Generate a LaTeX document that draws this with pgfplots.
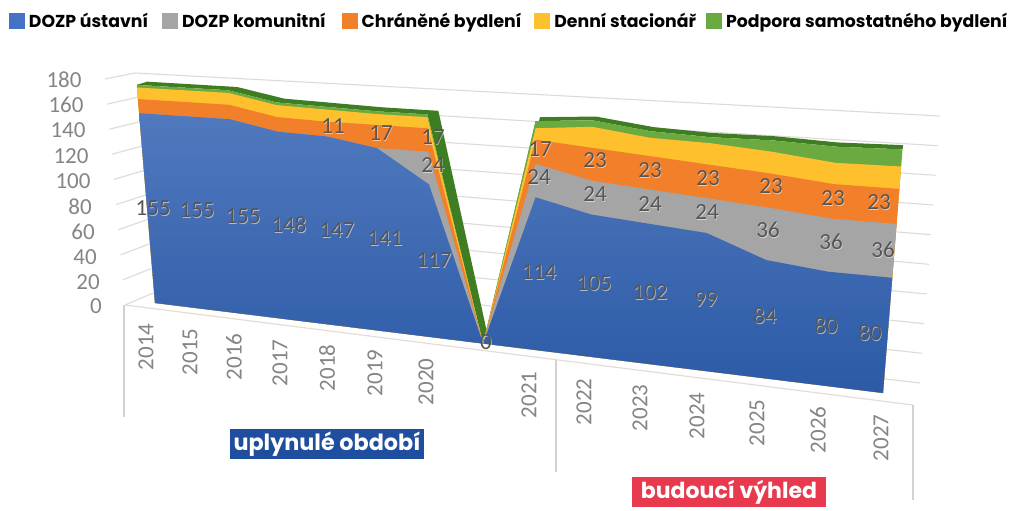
\documentclass[border=0pt]{standalone}
\usepackage{fontspec}
\usepackage{pgfplots}
\usepackage{pgfplotstable}
\pgfplotsset{compat=1.18}
\setmainfont{Carlito}
\newfontfamily\legfont{Poppins}
\definecolor{cblue}{HTML}{4472C4}
\definecolor{cbluet}{HTML}{5079BE}
\definecolor{cblueb}{HTML}{2C5AA6}
\definecolor{cgray}{HTML}{A5A5A5}
\definecolor{corange}{HTML}{F27F2A}
\definecolor{cyellow}{HTML}{FFC02D}
\definecolor{cgreen}{HTML}{6BAA40}
\definecolor{cdark}{HTML}{3F7D22}
\definecolor{cgrid}{HTML}{DEDAD7}
\definecolor{cfloor}{HTML}{E6DCD4}
\definecolor{cvert}{HTML}{D2D2D2}
\definecolor{clab}{HTML}{858585}
\definecolor{cdat}{HTML}{555555}
% projection of (category index, stacked value) onto the picture: front plane
\newcommand\FD[2]{(1-0.17939*(#1)/14-0.04719*(#2)/180)}
\newcommand\FX[2]{((569.6*(#1)/14-25.04*(#2)/180+155)/\FD{#1}{#2})}
\newcommand\FY[2]{((19.5*(#1)/14-225.82*(#2)/180+303)/\FD{#1}{#2})}
% back plane
\newcommand\BD[2]{(1-0.1844*(#1)/14-0.03579*(#2)/180)}
\newcommand\BX[2]{((564*(#1)/14-15.26*(#2)/180+157)/\BD{#1}{#2})}
\newcommand\BY[2]{((19.93*(#1)/14-214.79*(#2)/180+290)/\BD{#1}{#2})}
\pgfplotstableread{
i a b c d e
0 155 0 11 9 2
1 155 0 11 9 2
2 155 0 11 9 2
3 148 0 11 9 2
4 147 0 11 9 2
5 141 0 17 8 2
6 117 24 17 8 2
7 0 0 0 0 0
8 114 24 17 8 5
9 105 24 23 14.5 4.5
10 102 24 23 12.5 4.5
11 99 24 23 14.5 4
12 84 36 23 14.5 7.5
13 80 36 23 14 10.5
14 80 36 23 14.5 11
14 0 0 0 0 0
0 0 0 0 0 0
}\front
\pgfplotstableread{
i s p
0 177 0
1 177 0
2 177 0
3 170 0
4 169 0
5 168 0
6 168 0
7 0 0
8 168 0
9 171 0
10 166 0
11 164.5 0
12 165 0
13 163.5 0
14 164.5 0
14 164.5 1
13 163.5 1
12 165 1
11 164.5 1
10 166 1
9 171 1
8 168 1
7.06 0 1
6.1 168 1
5 168 1
4 169 1
3 170 1
2 177 1
1 177 1
0 177 1
}\topface
\pgfplotstableread{
px py lab
153 208 155
197 210 155
243 216 155
289 225 148
337 230 147
385 238 141
434 260 117
486 342 0
539 272 114
594 283 105
650 292 102
706 299 99
765 316 84
826 326 80
870 333 80
333 126 11
381 133 17
433 137 17
433 165 24
539 177 24
540 149 17
595 194 24
595 160 23
650 204 24
650 170 23
707 212 24
708 178 23
768 230 36
771 186 23
831 242 36
833 198 23
883 250 36
879 202 23
}\datalabels
\pgfplotstableread{
px py lab
146 347 2014
190 352 2015
234 357 2016
280 363 2017
327 368 2018
375 373 2019
426 382 2020
529 395 2021
584 402 2022
640 408 2023
697 416 2024
757 423 2025
818 430 2026
881 438 2027
}\xlabels
\pgfplotstableread{
px py lab
64 80 180
66 105 160
68 130 140
71 156 120
73 181 100
80 207 80
83 232 60
85 257 40
88 282 20
96 306 0
}\ylabels
\begin{document}
\begin{tikzpicture}
\begin{axis}[
  width=1009pt,height=511pt,scale only axis,
  xmin=0,xmax=1009,ymin=0,ymax=511,y dir=reverse,
  hide axis,clip=false,
  legend columns=5,
  legend entries={DOZP ústavní,DOZP komunitní,Chráněné bydlení,Denní stacionář,Podpora samostatného bydlení},
  legend image code/.code={\fill[#1,draw=none] (0pt,-8pt) rectangle (16pt,8pt);},
  legend style={at={(axis cs:9,21)},anchor=west,draw=none,fill=none,inner sep=0pt,outer sep=0pt,
    font=\legfont\bfseries\fontsize{17.3}{20}\selectfont,
    nodes={inner sep=0pt},
    /tikz/column 1/.style={column sep=4pt},
    /tikz/column 2/.style={column sep=14pt},
    /tikz/column 3/.style={column sep=4pt},
    /tikz/column 4/.style={column sep=16pt},
    /tikz/column 5/.style={column sep=4pt},
    /tikz/column 6/.style={column sep=13pt},
    /tikz/column 7/.style={column sep=4pt},
    /tikz/column 8/.style={column sep=10pt},
    /tikz/column 9/.style={column sep=4pt}},
  gridl/.style={draw=cgrid,line width=1.1pt,no marks,forget plot},
  every node near coord/.append style={anchor=center,inner sep=0pt,font=\fontsize{23}{23}\selectfont},
]
\addlegendimage{fill=cblue}
\addlegendimage{fill=cgray}
\addlegendimage{fill=corange}
\addlegendimage{fill=cyellow}
\addlegendimage{fill=cgreen}
\path (axis cs:0,0) rectangle (axis cs:1009,511);
% walls
\addplot[gridl] coordinates {(125,305) (153,293) (920,383)};
\addplot[gridl] coordinates {(122.8,279.9) (151,268.6) (922.2,353.3)};
\addplot[gridl] coordinates {(120.6,254.8) (149,244.1) (924.4,323.7)};
\addplot[gridl] coordinates {(118.3,229.7) (147,219.7) (926.7,294)};
\addplot[gridl] coordinates {(116.1,204.6) (145,195.2) (928.9,264.3)};
\addplot[gridl] coordinates {(113.9,179.4) (143,170.8) (931.1,234.7)};
\addplot[gridl] coordinates {(111.7,154.3) (141,146.3) (933.3,205)};
\addplot[gridl] coordinates {(109.4,129.2) (139,121.9) (935.6,175.3)};
\addplot[gridl] coordinates {(107.2,104.1) (137,97.4) (937.8,145.7)};
\addplot[gridl] coordinates {(105,79) (135,73) (940,116)};
% floor and category separators
\addplot[draw=cfloor,line width=1.2pt,no marks,forget plot] coordinates {(125,305) (913,405)};
\addplot[draw=cvert,line width=1.8pt,no marks,forget plot] coordinates {(124,305) (124,417)};
\addplot[draw=cvert,line width=1.8pt,no marks,forget plot] coordinates {(556,360) (556,472)};
\addplot[draw=cvert,line width=1.8pt,no marks,forget plot] coordinates {(913,405) (913,500)};
% depth of the stack
\addplot[fill=cdark,draw=none,no marks,forget plot] table[
  x expr={(1-\thisrow{p})*\FX{\thisrow{i}}{\thisrow{s}}+\thisrow{p}*\BX{\thisrow{i}}{\thisrow{s}}},
  y expr={(1-\thisrow{p})*\FY{\thisrow{i}}{\thisrow{s}}+\thisrow{p}*\BY{\thisrow{i}}{\thisrow{s}}}]{\topface};
% front faces, painted from the top of the stack down
\addplot[fill=cgreen,draw=none,no marks,forget plot] table[
  x expr={\FX{\thisrow{i}}{\thisrow{a}+\thisrow{b}+\thisrow{c}+\thisrow{d}+\thisrow{e}}},
  y expr={\FY{\thisrow{i}}{\thisrow{a}+\thisrow{b}+\thisrow{c}+\thisrow{d}+\thisrow{e}}}]{\front};
\addplot[fill=cyellow,draw=none,no marks,forget plot] table[
  x expr={\FX{\thisrow{i}}{\thisrow{a}+\thisrow{b}+\thisrow{c}+\thisrow{d}}},
  y expr={\FY{\thisrow{i}}{\thisrow{a}+\thisrow{b}+\thisrow{c}+\thisrow{d}}}]{\front};
\addplot[fill=corange,draw=none,no marks,forget plot] table[
  x expr={\FX{\thisrow{i}}{\thisrow{a}+\thisrow{b}+\thisrow{c}}},
  y expr={\FY{\thisrow{i}}{\thisrow{a}+\thisrow{b}+\thisrow{c}}}]{\front};
\addplot[fill=cgray,draw=none,no marks,forget plot] table[
  x expr={\FX{\thisrow{i}}{\thisrow{a}+\thisrow{b}}},
  y expr={\FY{\thisrow{i}}{\thisrow{a}+\thisrow{b}}}]{\front};
\addplot[top color=cbluet,bottom color=cblueb,draw=none,no marks,forget plot] table[
  x expr={\FX{\thisrow{i}}{\thisrow{a}}},
  y expr={\FY{\thisrow{i}}{\thisrow{a}}}]{\front};
% data labels
\addplot[only marks,mark=none,forget plot,point meta=explicit symbolic,
  nodes near coords={\pgfplotspointmeta},
  every node near coord/.append style={text=white,text opacity=0.55,xshift=0.7pt,yshift=-0.7pt}]
  table[x=px,y=py,meta=lab]{\datalabels};
\addplot[only marks,mark=none,forget plot,point meta=explicit symbolic,
  nodes near coords={\pgfplotspointmeta},
  every node near coord/.append style={text=cdat}]
  table[x=px,y=py,meta=lab]{\datalabels};
% axis labels
\addplot[only marks,mark=none,forget plot,point meta=explicit symbolic,
  nodes near coords={\pgfplotspointmeta},
  every node near coord/.append style={text=clab,rotate=90}]
  table[x=px,y=py,meta=lab]{\xlabels};
\addplot[only marks,mark=none,forget plot,point meta=explicit symbolic,
  nodes near coords={\pgfplotspointmeta},
  every node near coord/.append style={text=clab}]
  table[x=px,y=py,meta=lab]{\ylabels};
% period captions
\fill[fill={rgb,255:red,31;green,78;blue,158}] (axis cs:230,429) rectangle (axis cs:424,459);
\node[text=white,font=\legfont\bfseries\fontsize{22.3}{22}\selectfont,anchor=center] at (axis cs:327,444) {uplynulé období};
\fill[fill={rgb,255:red,232;green,57;blue,79}] (axis cs:632,477) rectangle (axis cs:826,507);
\node[text=white,font=\legfont\bfseries\fontsize{22}{22}\selectfont,anchor=center] at (axis cs:729,492) {budoucí výhled};
\end{axis}
\end{tikzpicture}
\end{document}
